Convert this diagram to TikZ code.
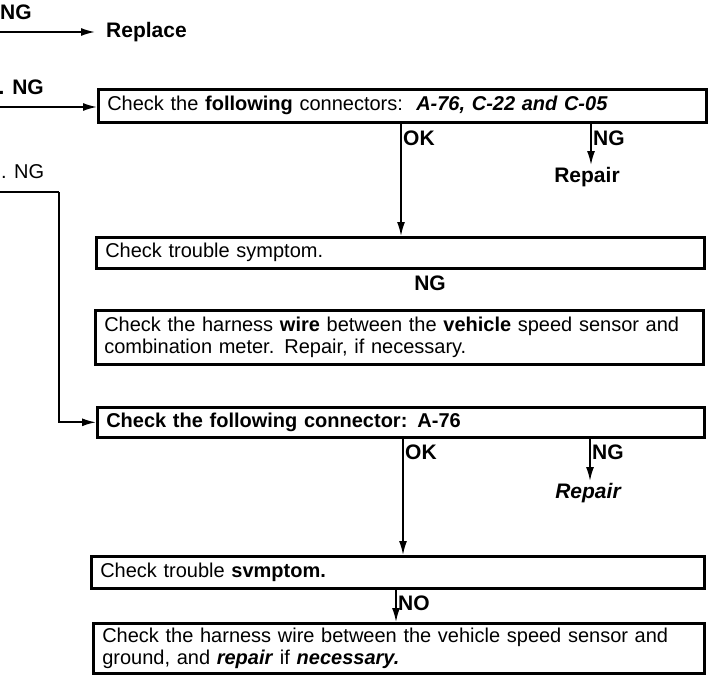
\documentclass[tikz,border=0pt]{standalone}
\usepackage{fontspec}
\setmainfont{Liberation Sans}
\usepackage{tikz}
\usetikzlibrary{arrows.meta,positioning,calc}
\newcommand{\hb}[1]{\textbf{#1}}
\newcommand{\hbi}[1]{\textbf{\textit{#1}}}

\begin{document}
\begin{tikzpicture}[x=1pt,y=-1pt,
    every node/.style={font=\fontsize{20}{22}\selectfont,inner sep=2pt},
    lbl/.style={font=\fontsize{21}{22}\selectfont\bfseries},
    chkbox/.style={draw,line width=2.6pt,anchor=north west,inner xsep=9pt,inner ysep=0pt,align=left},
    arr/.style={line width=1.7pt,-{Latex[length=14pt,width=8pt]}},
    lead/.style={line width=1.7pt}]
  \useasboundingbox (0,0) rectangle (711,685);

  \node[chkbox,minimum width=608,text width=590,minimum height=33] (conn1) at (97,88)
    {Check the \hb{following} connectors:\ \ \hbi{A-76, C-22 and C-05}};
  \node[chkbox,minimum width=608,text width=590,minimum height=31] (symp1) at (95,236)
    {Check trouble symptom.};
  \node[chkbox,minimum width=608,text width=590,minimum height=54] (harn1) at (94,309)
    {Check the harness \hb{wire} between the \hb{vehicle} speed sensor and\\
     combination meter. Repair, if necessary.};
  \node[chkbox,minimum width=607,text width=589,minimum height=30] (conn2) at (96,406)
    {\hb{Check the following connector: A-76}};
  \node[chkbox,minimum width=613,text width=595,minimum height=32] (symp2) at (90,555)
    {Check trouble \hb{svmptom.}};
  \node[chkbox,minimum width=611,text width=593,minimum height=50] (harn2) at (92,622)
    {Check the harness wire between the vehicle speed sensor and\\
     ground, and \hbi{repair} if \hbi{necessary.}};

  \node[lbl,anchor=west,inner sep=0pt] (ngtop) at (0,12) {NG};
  \node[lbl,anchor=west,inner xsep=11pt] (replace) at (95,32) {Replace};
  \node[lbl,anchor=east] (ngb) at (46,87) {. NG};
  \node[anchor=west,inner sep=0pt] (ngc) at (1,172) {. NG};
  \node[lbl,anchor=west] (ok1) at (401,138) {OK};
  \node[lbl,anchor=west] (ngr1) at (591,138) {NG};
  \node[lbl] (rep1) at (587,177) {Repair};
  \node[lbl] (ngmid) at (430,283) {NG};
  \node[lbl,anchor=west] (ok2) at (403,452) {OK};
  \node[lbl,anchor=west] (ngr2) at (590,452) {NG};
  \node[lbl,font=\fontsize{21}{22}\selectfont\bfseries\itshape] (rep2) at (588,493) {Repair};
  \node[lbl,anchor=west] (no1) at (396,603) {NO};

  \coordinate (inA) at (0,32);
  \coordinate (inB) at (0,107);
  \coordinate (inC) at (0,192);
  \coordinate (bend) at (59,192);

  \draw[arr] (inA) -- (replace.west);
  \draw[arr] (inB) -- (inB -| conn1.west);
  \draw[lead] (inC) -- (bend);
  \draw[arr] (bend) |- (conn2.west);
  \draw[arr] (ok1.west |- conn1.south) -- (ok1.west |- symp1.north);
  \draw[arr] (ngr1.west |- conn1.south) -- (ngr1.west |- rep1.north);
  \draw[arr] (ok2.west |- conn2.south) -- (ok2.west |- symp2.north);
  \draw[arr] (ngr2.west |- conn2.south) -- (ngr2.west |- rep2.north);
  \draw[arr] (no1.west |- symp2.south) -- (no1.west |- harn2.north);
\end{tikzpicture}
\end{document}
